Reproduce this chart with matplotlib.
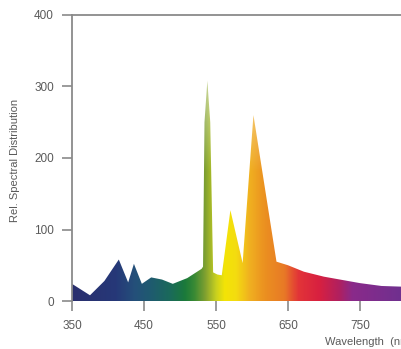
import numpy as np
import matplotlib
matplotlib.use("Agg")
import matplotlib.pyplot as plt
from matplotlib.colors import LinearSegmentedColormap

# Spectrum data
wavelength = [350, 375, 395, 415, 428, 436, 447, 460, 475, 490, 510, 530, 532,
              534, 538, 542, 546, 552, 558, 570, 587, 602, 634, 650, 672, 700,
              750, 780, 810]
intensity = [24, 8, 28, 58, 26, 52, 24, 33, 30, 24, 32, 45, 48,
             250, 308, 250, 40, 37, 36, 127, 53, 260, 55, 50, 41, 34,
             25, 21, 20]

# Colour stops along wavelength
color_wl = [350, 410, 437, 458, 486, 507, 520, 535, 550, 562, 578, 597, 618,
            645, 665, 694, 722, 740, 810]
color_hex = ["#2a2f6e", "#263878", "#24507a", "#1f5a70", "#1a6a5a", "#1b7a3a",
             "#3a8a34", "#80a030", "#c8d020", "#f3e406", "#f4dc10", "#f0b020",
             "#eb9020", "#e87a26", "#e23438", "#d82040", "#b02060", "#8a2a8a",
             "#70308f"]

xticks = [350, 450, 550, 650, 750]
yticks = [0, 100, 200, 300, 400]

W, H = 401, 349
fig = plt.figure(figsize=(W / 100, H / 100), dpi=100)
ax = fig.add_axes([72 / W, (H - 301) / H, (W - 72) / W, (301 - 15) / H])
xmax = 350 + (W - 72) / 0.72
ax.set_xlim(350, xmax)
ax.set_ylim(0, 400)

# gradient image
nx, ny = 800, 300
ys = np.linspace(0, 400, ny)
stops = [(w - 350) / (xmax - 350) for w in color_wl]
stops = [min(max(s, 0), 1) for s in stops]
stops[0], stops[-1] = 0.0, 1.0
cmap = LinearSegmentedColormap.from_list("spec", list(zip(stops, color_hex)))
row = cmap(np.linspace(0, 1, nx))[:, :3]
img = np.repeat(row[None, :, :], ny, axis=0)
fade = np.clip((ys - 180) / 250, 0, 0.45)[:, None, None]
img = img * (1 - fade) + fade
im = ax.imshow(img, extent=[350, xmax, 0, 400], origin="lower", aspect="auto",
               interpolation="bilinear", zorder=2)
poly = ax.fill_between(wavelength, intensity, 0, color="none", lw=0, zorder=1)
im.set_clip_path(poly.get_paths()[0], transform=ax.transData)

gray = "#8a8a8a"
for s in ["right", "bottom"]:
    ax.spines[s].set_visible(False)
ax.spines["left"].set_color(gray)
ax.spines["top"].set_color(gray)
ax.spines["left"].set_linewidth(1.3)
ax.spines["top"].set_linewidth(1.3)

ax.set_xticks(xticks)
ax.set_yticks(yticks)
ax.tick_params(axis="both", colors=gray, labelcolor="#5a5a5a", length=7,
               width=1.2, labelsize=8.5, pad=6, direction="out")
ax.tick_params(axis="x", pad=7)
for lbl in ax.get_xticklabels() + ax.get_yticklabels():
    lbl.set_fontfamily("Liberation Sans")

fig.text(15 / W, (H - 160) / H, "Rel. Spectral Distribution", rotation=90,
         ha="center", va="center", fontsize=8, color="#5a5a5a",
         family="Liberation Sans")
fig.text(325 / W, (H - 342) / H, "Wavelength  (nm)", ha="left", va="center",
         fontsize=8, color="#5a5a5a", family="Liberation Sans")

fig.savefig("out.png", dpi=100)
